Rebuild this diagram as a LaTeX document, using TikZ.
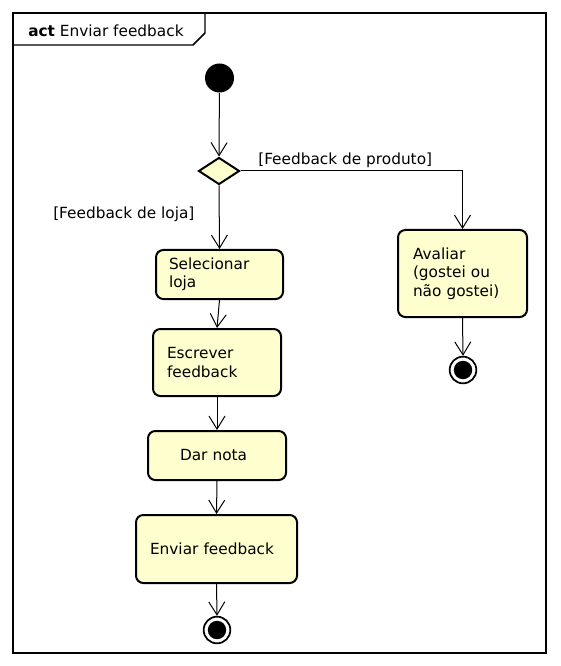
\documentclass[tikz,border=0pt]{standalone}
\usepackage{fontspec}
\setmainfont{DejaVu Sans}
\usetikzlibrary{shapes.geometric,arrows.meta}
\definecolor{actfill}{HTML}{FEFECE}
\begin{document}
\begin{tikzpicture}[x=0.75pt,y=-0.75pt,
  font=\fontsize{11.5}{13.8}\selectfont,
  actbox/.style={draw, fill=actfill, line width=1.5pt, rounded corners=5.5pt, align=left, inner ysep=0pt},
  flow/.style={line width=0.75pt, -{Straight Barb[length=9.75pt,width=12pt]}},
  startnode/.style={circle, fill=black, inner sep=0pt, minimum size=21.75pt},
  endnode/.style={circle, draw, fill=white, line width=1.3pt, inner sep=0pt, minimum size=20pt,
     path picture={\fill[black] (path picture bounding box.center) circle (6.9pt);}},
  decision/.style={diamond, draw, fill=actfill, line width=1.5pt, inner sep=0pt, minimum width=30.75pt, minimum height=20.25pt},
  guard/.style={anchor=west, inner sep=0pt}
]
\useasboundingbox (0,0) rectangle (560,666);
% frame
\draw[line width=1.1pt] (13,13) rectangle (546,653);
\draw[line width=1.1pt] (13,45) -- (193,45) -- (205,33) -- (205,13);
\node[anchor=west, inner sep=0pt] (title) at (28,31) {\textbf{act} Enviar feedback};

\node[startnode] (start) at (219.5,78) {};
\node[decision] (dec) at (219,171) {};

\node[actbox, minimum width=95.25pt, minimum height=36.75pt, text width=75.75pt, inner xsep=9.75pt] (sel) at (219.5,274.5) {Selecionar\\loja};
\node[actbox, minimum width=96pt, minimum height=50.25pt, text width=75pt, inner xsep=10.5pt] (esc) at (217,362.5) {Escrever\\feedback};
\node[actbox, minimum width=103.5pt, minimum height=36.75pt, text width=55.5pt, inner xsep=24pt] (nota) at (217,455.5) {Dar nota};
\node[actbox, minimum width=120.75pt, minimum height=51pt, text width=99.75pt, inner xsep=10.5pt] (env) at (216.5,549) {Enviar feedback};
\node[actbox, minimum width=96.75pt, minimum height=65.25pt, text width=74.25pt, inner xsep=11.25pt] (aval) at (462.5,273.5) {Avaliar\\(gostei ou\\não gostei)};

\node[endnode] (end1) at (217,630) {};
\node[endnode] (end2) at (463,370) {};

\node[guard] (gprod) at (258,160) {[Feedback de produto]};
\node[guard] (gloja) at (53,214) {[Feedback de loja]};

\draw[flow] (start) -- (dec.north);
\draw[flow] (dec.south) -- (sel.north);
\draw[flow] (dec.east) -| (aval.north);
\draw[flow] (sel.south) -- (esc.north);
\draw[flow] (esc.south) -- (nota.north);
\draw[flow] (nota.south) -- (env.north);
\draw[flow] (env.south) -- (end1.north);
\draw[flow] (aval.south) -- (end2.north);
\end{tikzpicture}
\end{document}
